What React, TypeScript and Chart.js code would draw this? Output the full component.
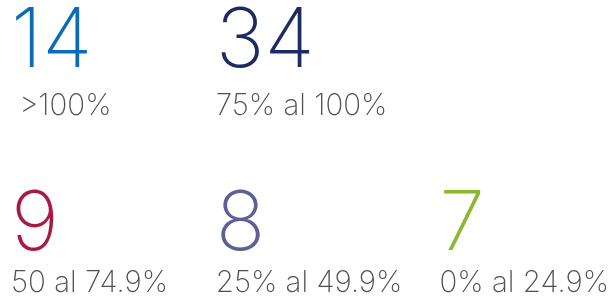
import { useEffect, useRef } from "react";
import { Chart, registerables } from "chart.js";

Chart.register(...registerables);

// KPI counts per range
const values = [14, 34, 9, 8, 7];
const rangeLabels = [" >100%", "75% al 100%", "50 al 74.9%", "25% al 49.9%", "0% al 24.9%"];
const columns = [0, 1, 0, 1, 2];
const rows = [0, 0, 1, 1, 1];
const colors = ["#0b6bb6", "#1e2b63", "#a81a44", "#5c6096", "#8cb82d"];

const NUM_FONT = "160 82px Inter";
const LABEL_FONT = "200 29.5px Inter";
const LABEL_COLOR = "#505050";
const colNudge = [0, 0, 19];
const rowLabelGap = [48, 42];

const kpiPlugin = {
  id: "kpiText",
  afterDatasetsDraw(chart: any) {
    const ctx = chart.ctx;
    const meta = chart.getDatasetMeta(0);
    meta.data.forEach((el: any, i: number) => {
      const { x, y } = el.getProps(["x", "y"], true);
      const px = x + colNudge[columns[i]];
      ctx.save();
      ctx.textAlign = "left";
      ctx.textBaseline = "alphabetic";
      ctx.fillStyle = colors[i];
      ctx.font = NUM_FONT;
      ctx.fillText(String(values[i]), px, y);
      ctx.fillStyle = LABEL_COLOR;
      ctx.font = LABEL_FONT;
      ctx.fillText(rangeLabels[i], px, y + rowLabelGap[rows[i]]);
      ctx.restore();
    });
  },
};

export default function App() {
  const ref = useRef<HTMLCanvasElement | null>(null);
  useEffect(() => {
    document.body.style.margin = "0";
    const canvas = ref.current;
    if (!canvas) return;
    const chart = new Chart(canvas, {
      type: "scatter",
      data: {
        datasets: [
          {
            data: values.map((v, i) => ({ x: columns[i], y: rows[i], v })),
            pointRadius: 0,
            pointHoverRadius: 0,
            backgroundColor: colors,
          },
        ],
      },
      options: {
        animation: false,
        responsive: false,
        events: [],
        layout: { padding: { left: 11, top: 67, bottom: 51, right: 0 } },
        plugins: { legend: { display: false }, tooltip: { enabled: false } },
        scales: {
          x: { type: "linear", display: false, min: 0, max: 2.94 },
          y: { type: "linear", display: false, min: 0, max: 1, reverse: true },
        },
      },
      plugins: [kpiPlugin],
    });
    return () => chart.destroy();
  }, []);
  return (
    <div style={{ width: 613, height: 301, background: "#ffffff" }}>
      <canvas ref={ref} width={613} height={301} />
    </div>
  );
}
